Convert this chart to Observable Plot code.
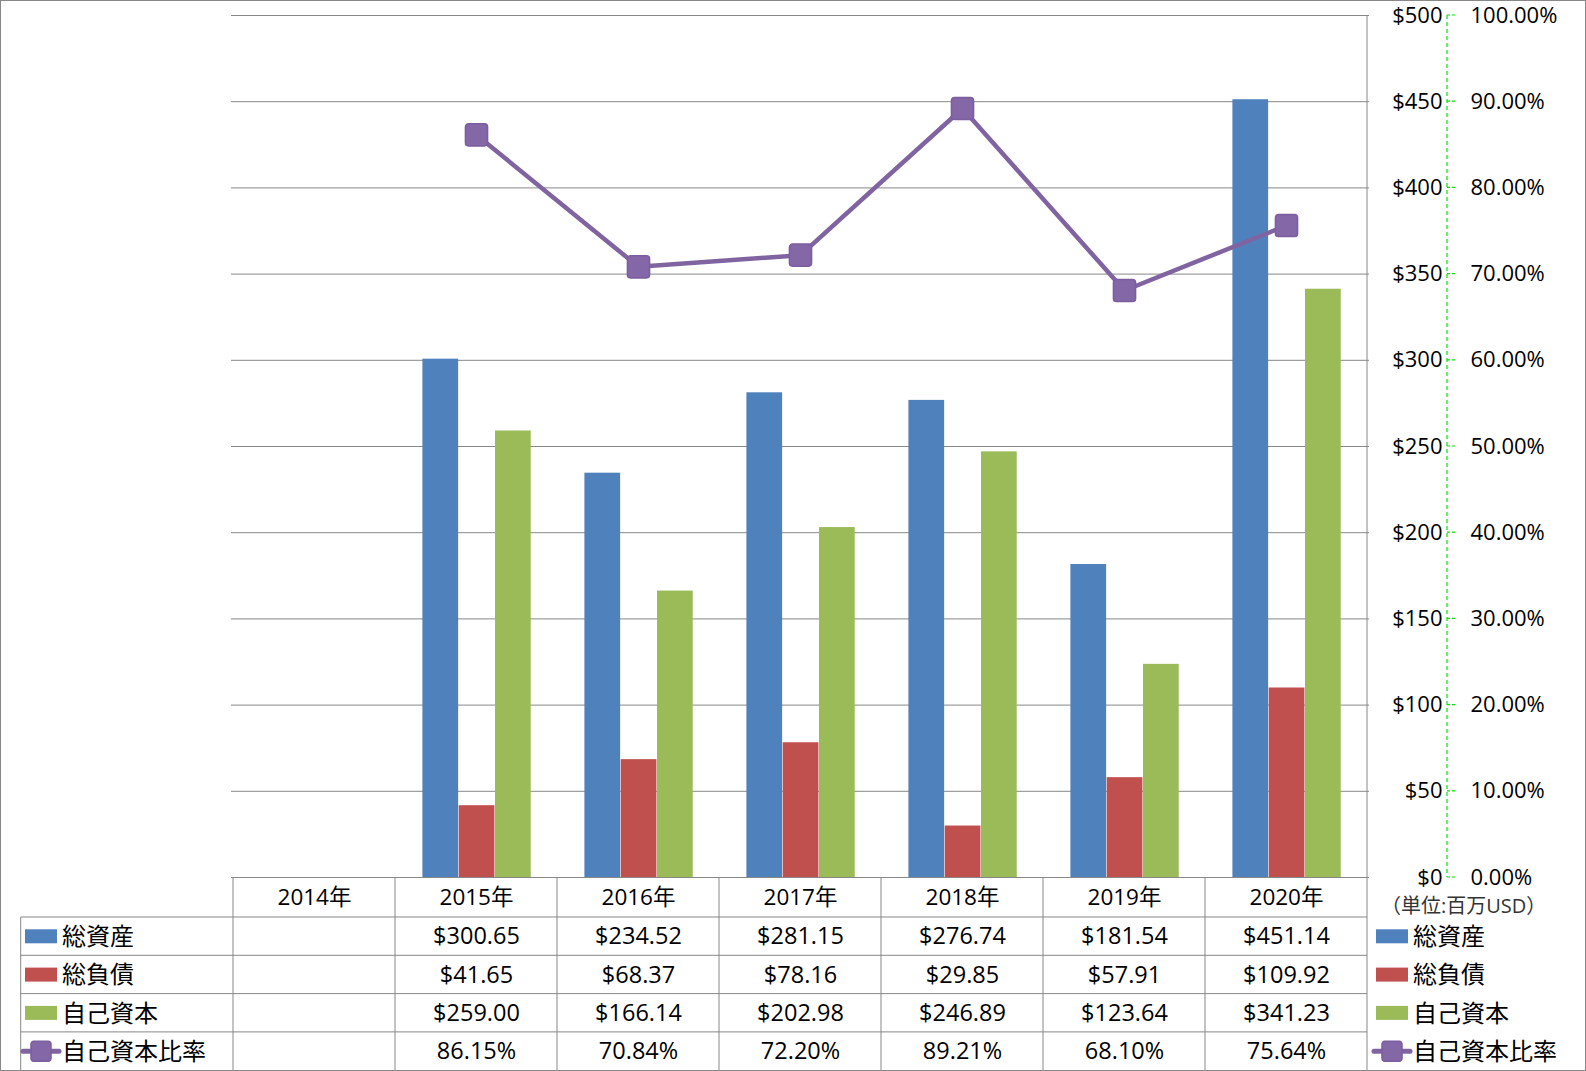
<!DOCTYPE html>
<html><head><meta charset="utf-8">
<script src="https://cdn.jsdelivr.net/npm/d3@7"></script>
<script src="https://cdn.jsdelivr.net/npm/@observablehq/plot@0.6"></script>
<style>body{margin:0;background:#fff} svg{display:block}</style>
</head><body><div id="chart"></div>
<script>
// ---- data ----
const years = ["2014年","2015年","2016年","2017年","2018年","2019年","2020年"];
const seriesNames = ["総資産","総負債","自己資本","自己資本比率"];
const totalAssets      = [null, 300.65, 234.52, 281.15, 276.74, 181.54, 451.14];
const totalLiabilities = [null,  41.65,  68.37,  78.16,  29.85,  57.91, 109.92];
const equity           = [null, 259.00, 166.14, 202.98, 246.89, 123.64, 341.23];
const equityRatio      = [null,  86.15,  70.84,  72.20,  89.21,  68.10,  75.64];
const yTicks = [0, 50, 100, 150, 200, 250, 300, 350, 400, 450, 500];
const unitLabel = "（単位:百万USD）";
const colors = ["#4F81BD", "#C0504D", "#9BBB59", "#8064A2"];

// ---- derived tables ----
const barSeries = [totalAssets, totalLiabilities, equity];
const bars = barSeries.map((vals, s) => years.map((year, i) => ({year, value: vals[i], s})).filter(d => d.value != null));
const ratio = years.map((year, i) => ({year, value: equityRatio[i]})).filter(d => d.value != null);

const FONT = '"Open Sans","Noto Sans CJK JP",sans-serif';
const W = 1586, H = 1071;
const mL = 231, mR = W - 1369, mT = 15, mB = H - 877;
const bw = (W - mL - mR) / years.length;
const barW = 36.3, groupOff = 27.4;
const headerDy = 20, rowDy = [59.3, 97.6, 135.9, 174.2];

const roundSquare = {
  draw(ctx, size) {
    const s = Math.sqrt(size) / 2, r = s * 0.28;
    ctx.moveTo(-s + r, -s);
    ctx.lineTo(s - r, -s); ctx.arcTo(s, -s, s, -s + r, r);
    ctx.lineTo(s, s - r); ctx.arcTo(s, s, s - r, s, r);
    ctx.lineTo(-s + r, s); ctx.arcTo(-s, s, -s, s - r, r);
    ctx.lineTo(-s, -s + r); ctx.arcTo(-s, -s, -s + r, -s, r);
    ctx.closePath();
  }
};

const fmtMoney = v => "$" + v.toFixed(2);
const fmtPct = v => v.toFixed(2) + "%";
const cells = (vals, fmt) => years.map((year, i) => ({year, label: vals[i] == null ? null : fmt(vals[i])})).filter(d => d.label != null);
const cellText = (data, dy, size) => Plot.text(data, {x: "year", text: "label", frameAnchor: "bottom", lineAnchor: "middle", dy, fontSize: size, fill: "#000"});

const marks = [
  Plot.ruleY(yTicks, {stroke: "#888", strokeWidth: 1}),
  ...bars.map((data, s) => Plot.barY(data, {
    x: "year", y: "value", fill: colors[s],
    insetLeft: groupOff + s * barW, insetRight: bw - groupOff - (s + 1) * barW
  })),
  Plot.line(ratio, {x: "year", y: d => d.value * 5, stroke: colors[3], strokeWidth: 4.5}),
  Plot.dot(ratio, {x: "year", y: d => d.value * 5, symbol: roundSquare, r: 12.5, fill: "#8467A7", stroke: "#7B5E9F", strokeWidth: 1.5}),
  Plot.text(yTicks, {y: d => d, text: d => "$" + d, frameAnchor: "right", textAnchor: "end", dx: 73, fontSize: 22, fill: "#000"}),
  Plot.text(yTicks, {y: d => d, text: d => (d / 5).toFixed(2) + "%", frameAnchor: "right", textAnchor: "start", dx: 101, fontSize: 22, fill: "#000"}),
  cellText(years.map(year => ({year, label: year})), headerDy, 22.5),
  cellText(cells(totalAssets, fmtMoney), rowDy[0], 23.5),
  cellText(cells(totalLiabilities, fmtMoney), rowDy[1], 23.5),
  cellText(cells(equity, fmtMoney), rowDy[2], 23.5),
  cellText(cells(equityRatio, fmtPct), rowDy[3], 23.5)
];

const chart = Plot.plot({
  width: W, height: H,
  marginLeft: mL, marginRight: mR, marginTop: mT, marginBottom: mB,
  style: {fontFamily: FONT, fontSize: "22px", background: "#fff", color: "#000"},
  x: {type: "band", domain: years, padding: 0, axis: null},
  y: {domain: [0, 500], axis: null},
  marks
});
document.getElementById("chart").appendChild(chart);

// ---- table grid, axis line and legends drawn from the plot's scales ----
const X = chart.scale("x"), Y = chart.scale("y");
const svg = d3.select(chart);
const g = svg.append("g").attr("text-anchor", "start");
const y0 = Y.apply(0), yTop = Y.apply(500);
const xR = X.apply(years[years.length - 1]) + X.bandwidth;
const rowLines = [y0 + 40, y0 + 78.3, y0 + 116.6, y0 + 154.9];
const labelLeft = 20.7;
const grid = "#888";

years.forEach(yr => {
  g.append("line").attr("x1", X.apply(yr)).attr("x2", X.apply(yr)).attr("y1", y0).attr("y2", H)
    .attr("stroke", grid);
});
g.append("line").attr("x1", xR).attr("x2", xR).attr("y1", yTop).attr("y2", H).attr("stroke", grid);
g.append("line").attr("x1", labelLeft).attr("x2", labelLeft).attr("y1", rowLines[0]).attr("y2", H).attr("stroke", grid);
rowLines.forEach(y => g.append("line").attr("x1", labelLeft).attr("x2", xR).attr("y1", y).attr("y2", y).attr("stroke", grid));

// green dashed secondary axis
const axX = 1447;
g.append("line").attr("x1", axX).attr("x2", axX).attr("y1", yTop).attr("y2", y0)
  .attr("stroke", "#00E400").attr("stroke-width", 1.2).attr("stroke-dasharray", "4,3");
yTicks.forEach(t => g.append("line").attr("x1", axX).attr("x2", axX + 8).attr("y1", Y.apply(t)).attr("y2", Y.apply(t))
  .attr("stroke", "#00E400").attr("stroke-width", 1.2).attr("stroke-dasharray", "3,2"));

// unit label
g.append("text").attr("x", 1381).attr("y", y0 + 30).attr("dy", "0.32em").attr("font-size", 20).attr("fill", "#333")
  .attr("text-anchor", "start").attr("font-family", FONT).text(unitLabel);

// legends
const rowCenters = [y0 + 59.3, y0 + 97.6, y0 + 135.9, y0 + 174.2];
function legendItem(x, yc, i) {
  if (i < 3) {
    g.append("rect").attr("x", x).attr("y", yc - 7).attr("width", 32).attr("height", 14).attr("fill", colors[i]);
  } else {
    g.append("line").attr("x1", x - 2).attr("x2", x + 34).attr("y1", yc).attr("y2", yc)
      .attr("stroke", colors[3]).attr("stroke-width", 5).attr("stroke-linecap", "round");
    g.append("path").attr("transform", `translate(${x + 16},${yc})`)
      .attr("d", (() => { const p = d3.path(); roundSquare.draw(p, 400); return p.toString(); })())
      .attr("fill", "#8467A7").attr("stroke", "#7B5E9F").attr("stroke-width", 1.5);
  }
  g.append("text").attr("x", x + 37).attr("y", yc).attr("dy", "0.36em").attr("font-size", 24)
    .attr("text-anchor", "start").attr("font-family", FONT).attr("fill", "#000").text(seriesNames[i]);
}
seriesNames.forEach((s, i) => {
  legendItem(25, rowCenters[i], i);
  legendItem(1376, rowCenters[i], i);
});

g.append("rect").attr("x", 0.5).attr("y", 0.5).attr("width", W - 1).attr("height", H - 1)
  .attr("fill", "none").attr("stroke", grid);
</script>
</body></html>
